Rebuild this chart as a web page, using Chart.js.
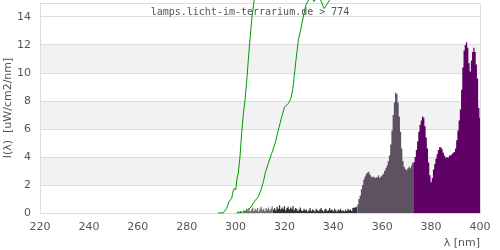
<!DOCTYPE html>
<html>
<head>
<meta charset="utf-8">
<script src="https://cdn.jsdelivr.net/npm/chart.js@4.4.1/dist/chart.umd.min.js"></script>
<style>
  body { margin: 0; background: #fff; }
</style>
</head>
<body>
<canvas id="spectrum" width="500" height="250"></canvas>
<script>
// spectrum is sampled every 0.5 nm
const STEP = 0.5;

// UVB part (grey), 300..315 nm
const uvbStart = 300;
const uvbValues = [0.05, -0.2, 0.1, -0.35, 0.15, 0.05, -0.3, 0.2, 0.1, 0.3,
    0.15, 0.35, 0.1, 0.25, 0.4, 0.15, 0.3, 0.2, 0.35, 0.1,
    0.3, 0.45, 0.2, 0.3, 0.15, 0.35, 0.25, 0.4, 0.2, 0.3, 0.5];

// UVA noise (dark), 315..350 nm
const noiseStart = 315;
const noiseValues = [0.5, 0.25, 0.35, 0.2, 0.45, 0.3, 0.55, 0.25, 0.4, 0.3,
    0.5, 0.2, 0.35, 0.45, 0.25, 0.4, 0.3, 0.5, 0.2, 0.35,
    0.3, 0.15, 0.25, 0.4, 0.2, 0.15, 0.3, 0.2, 0.25, 0.1,
    0.2, 0.35, 0.15, 0.25, 0.2, 0.1, 0.3, 0.2, 0.15, 0.25,
    0.35, 0.2, 0.1, 0.25, 0.3, 0.15, 0.2, 0.35, 0.2, 0.25,
    0.15, 0.3, 0.2, 0.1, 0.25, 0.2, 0.3, 0.15, 0.2, 0.1,
    0.25, 0.15, 0.3, 0.2, 0.25, 0.15, 0.35, 0.4, 0.4, 0.45, 0.6];

// UVA peak (grey-violet), 350..373 nm
const uvaStart = 350;
const uvaValues = [0.6, 1.0, 1.25, 1.7, 2.0, 2.4, 2.6, 2.8, 2.9, 2.95,
    2.75, 2.6, 2.55, 2.6, 2.5, 2.55, 2.55, 2.7, 2.5, 2.6,
    2.7, 2.8, 3.0, 3.2, 3.4, 3.7, 4.1, 4.9, 5.9, 7.0,
    7.9, 8.6, 8.5, 7.9, 6.9, 5.8, 4.6, 3.7, 3.3, 3.15,
    3.05, 3.2, 3.3, 3.2, 3.4, 3.6, 3.6];

// violet part, 373..400 nm
const violetStart = 373;
const violetValues = [3.65, 4.0, 4.5, 5.1, 5.8, 6.3, 6.6, 6.9, 6.8, 6.2,
    5.4, 4.6, 3.6, 2.7, 2.2, 2.5, 3.1, 3.5, 3.9, 4.2,
    4.5, 4.7, 4.7, 4.55, 4.3, 4.1, 3.95, 4.0, 3.95, 4.1,
    4.1, 4.2, 4.3, 4.35, 4.6, 5.2, 5.9, 6.6, 7.4, 8.8,
    10.4, 11.6, 12.0, 12.2, 11.8, 10.7, 10.1, 10.9, 11.5, 11.8,
    11.5, 10.6, 9.6, 7.5, 6.8];

// green reference curves (wavelength, value)
const curveANm = [292.9, 295, 296.4, 297.3, 298.4, 299.1, 299.5, 300.1, 300.5, 301.1,
    301.8, 302.5, 303.2, 303.9, 304.6, 305.2, 305.9, 306.6, 307.6, 308.5];
const curveAVal = [0, 0.02, 0.34, 0.8, 1.05, 1.64, 1.76, 1.64, 2.36, 2.83,
    4.0, 5.7, 7.1, 8.1, 9.5, 10.9, 12.4, 13.8, 15.2, 16.5];

const curveBNm = [300.5, 303.9, 305.9, 308, 309.3, 310.4, 311.4, 312.1, 313.4, 314.8,
    316.2, 317.5, 318.9, 320, 321.6, 322.5, 323.4, 323.9, 324.7, 325.7,
    326.6, 327.7, 328.8, 329.8, 330.9, 332.1, 333.8, 336.3, 338.6, 340];
const curveBVal = [0, 0.1, 0.34, 0.88, 1.17, 1.64, 2.24, 2.83, 3.55, 4.26,
    4.98, 5.93, 6.88, 7.55, 7.83, 8.1, 8.8, 9.6, 10.9, 12.36,
    13.07, 14.0, 14.86, 15.2, 15.45, 15.1, 15.6, 14.6, 15.25, 16];

// x ticks every 20 nm, y ticks every 2
const xMin = 220, xMax = 400, xStep = 20;
const yMin = 0, yMax = 15, yStep = 2;
const shadedBands = [[2, 4], [6, 8], [10, 12]];

const titleText = 'lamps.licht-im-terrarium.de > 774';

function sampled(start, values) {
    return values.map((v, i) => ({ x: start + i * STEP, y: v }));
}

function paired(xs, ys) {
    return xs.map((x, i) => ({ x: x, y: ys[i] }));
}

function fillSet(data, color, clip) {
    return {
        data: data,
        backgroundColor: color,
        borderWidth: 0,
        fill: 'origin',
        stepped: 'middle',
        pointRadius: 0,
        order: 1,
        clip: clip
    };
}

function curveSet(data) {
    return {
        data: data,
        borderColor: '#009900',
        borderWidth: 1,
        fill: false,
        tension: 0,
        pointRadius: 0,
        order: 0,
        clip: false
    };
}

// shaded bands, frame and the site caption
const framePlugin = {
    id: 'frame',
    beforeDraw(chart) {
        const { ctx, chartArea: a, scales: { y } } = chart;
        ctx.save();
        ctx.fillStyle = '#f2f2f2';
        shadedBands.forEach(([lo, hi]) => {
            const top = y.getPixelForValue(hi);
            const bottom = y.getPixelForValue(lo);
            ctx.fillRect(a.left, top, a.right - a.left, bottom - top);
        });
        ctx.strokeStyle = '#dddddd';
        ctx.lineWidth = 1;
        ctx.beginPath();
        ctx.moveTo(a.left, Math.round(a.top) + 0.5);
        ctx.lineTo(Math.round(a.right) + 0.5, Math.round(a.top) + 0.5);
        ctx.lineTo(Math.round(a.right) + 0.5, a.bottom);
        ctx.stroke();
        ctx.restore();
    },
    afterDraw(chart) {
        const { ctx } = chart;
        ctx.save();
        ctx.font = '10px "DejaVu Sans Mono"';
        ctx.fillStyle = '#555555';
        ctx.textAlign = 'center';
        ctx.textBaseline = 'middle';
        ctx.fillText(titleText, chart.width / 2, 12);
        ctx.restore();
    }
};

const tickFont = { family: 'DejaVu Sans', size: 11 };

new Chart(document.getElementById('spectrum'), {
    type: 'line',
    data: {
        datasets: [
            curveSet(paired(curveANm, curveAVal)),
            curveSet(paired(curveBNm, curveBVal)),
            fillSet(sampled(uvbStart, uvbValues), '#6e6e6e', false),
            fillSet(sampled(noiseStart, noiseValues), '#333333', true),
            fillSet(sampled(uvaStart, uvaValues), '#5d5162', true),
            fillSet(sampled(violetStart, violetValues), '#5e0066', true)
        ]
    },
    options: {
        responsive: false,
        animation: false,
        layout: { padding: { top: 3, right: 20, left: 0, bottom: 0 } },
        plugins: {
            legend: { display: false },
            tooltip: { enabled: false }
        },
        scales: {
            x: {
                type: 'linear',
                min: xMin,
                max: xMax,
                grid: { display: false, drawTicks: false },
                border: { color: '#dddddd' },
                ticks: { stepSize: xStep, color: '#555555', font: tickFont, padding: 8, maxRotation: 0 },
                title: {
                    display: true,
                    text: 'λ [nm]',
                    align: 'end',
                    color: '#555555',
                    font: tickFont,
                    padding: { top: 0, bottom: 0 }
                },
                afterFit(scale) { scale.height = 37; }
            },
            y: {
                min: yMin,
                max: yMax,
                grid: { color: '#dddddd', drawTicks: false },
                border: { color: '#dddddd' },
                ticks: { stepSize: yStep, includeBounds: false, color: '#555555', font: tickFont, padding: 9 },
                title: {
                    display: true,
                    text: 'I(λ)  [uW/cm2/nm]',
                    color: '#555555',
                    font: tickFont,
                    padding: { top: 2, bottom: 0 }
                },
                afterFit(scale) {
                    scale.width = 40;
                    scale.paddingTop = 0;
                    scale.paddingBottom = 0;
                }
            }
        }
    },
    plugins: [framePlugin]
});
</script>
</body>
</html>
